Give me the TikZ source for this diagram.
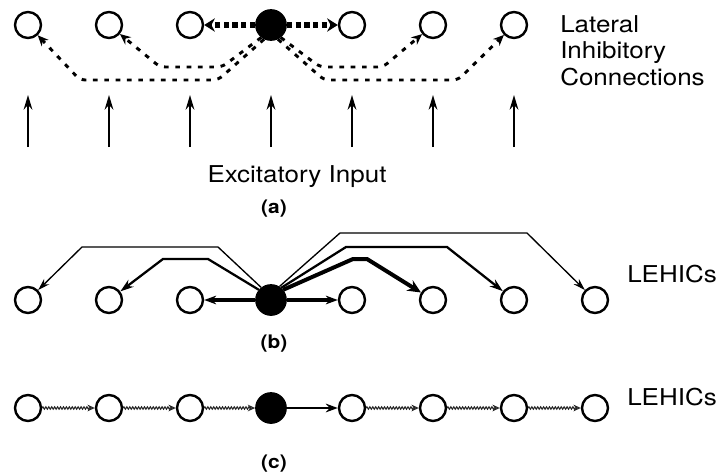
\documentclass[tikz,border=0pt]{standalone}
\usepackage{fontspec}
\setmainfont[FakeStretch=1.12]{TeX Gyre Heros}
\usepackage{tikz}
\usetikzlibrary{shapes.geometric, arrows.meta, positioning, decorations.pathmorphing}
\tikzstyle{cell} = [circle, draw=black, line width=1.8pt, minimum size=19.5pt, inner sep=0pt]
\tikzstyle{active} = [cell, fill=black, minimum size=22pt]
\tikzstyle{caption} = [inner sep=0pt, font=\fontsize{17.4}{20}\selectfont]
\tikzstyle{tag} = [inner sep=0pt, font=\bfseries\fontsize{14}{16}\selectfont]
\tikzstyle{input} = [line width=1.6pt, -{Stealth[length=11pt, width=6.5pt]}]
\tikzstyle{inhib} = [line width=2.2pt, dash pattern=on 3.5pt off 5pt, rounded corners=4pt, -{Stealth[length=8pt, width=7pt]}]
\tikzstyle{heavy} = [line width=4.5pt, dash pattern=on 4pt off 2.5pt, -{Stealth[length=8pt, width=10pt]}]
\tikzstyle{thin} = [line width=1pt, -{Stealth[length=9pt, width=5.5pt]}]
\tikzstyle{medium} = [line width=1.7pt, -{Stealth[length=10pt, width=6.5pt]}]
\tikzstyle{thick} = [line width=3pt, -{Stealth[length=10pt, width=9pt]}]
\tikzstyle{chain} = [line width=0.8pt, black!85, decorate, decoration={zigzag, amplitude=0.9pt, segment length=2.2pt, post length=4pt}, -{Stealth[open, length=5.5pt, width=5pt]}]
\tikzstyle{fire} = [line width=1.6pt, -{Stealth[length=9pt, width=6.5pt]}]

\begin{document}
\begin{tikzpicture}[x=0.75pt, y=-0.75pt, node distance=60.75pt]
	\useasboundingbox (0,0) rectangle (718,475);

	% (a) lateral inhibition
	\node (a1) [cell] at (28,25) {};
	\node (a2) [cell, right of=a1] {};
	\node (a3) [cell, right of=a2] {};
	\node (a4) [active, right of=a3] {};
	\node (a5) [cell, right of=a4] {};
	\node (a6) [cell, right of=a5] {};
	\node (a7) [cell, right of=a6] {};
	\node (lic) [caption, anchor=north west, align=left] at (560,15) {Lateral\\Inhibitory\\Connections};

	\draw [heavy](a4) -- (a3);
	\draw [heavy](a4) -- (a5);
	\draw [inhib](a4.232) -- (222,67) -- (160,67) -- (a2);
	\draw [inhib](a4.244) -- (218,80) -- (80,80) -- (a1);
	\draw [inhib](a4.308) -- (320,67) -- (383,67) -- (a6);
	\draw [inhib](a4.296) -- (324,80) -- (458,80) -- (a7);

	\foreach \i in {1,...,7} {
		\path (a\i) ++(0,122) coordinate (ib\i);
		\path (a\i) ++(0,70) coordinate (it\i);
		\draw [input](ib\i) -- (it\i);
	}
	\node (exc) [caption, anchor=base] at (297,182) {Excitatory Input};
	\node (taga) [tag, anchor=base] at (274,213.5) {(a)};

	% (b) LEHICs
	\node (b1) [cell] at (28,300) {};
	\node (b2) [cell, right of=b1] {};
	\node (b3) [cell, right of=b2] {};
	\node (b4) [active, right of=b3] {};
	\node (b5) [cell, right of=b4] {};
	\node (b6) [cell, right of=b5] {};
	\node (b7) [cell, right of=b6] {};
	\node (b8) [cell, right of=b7] {};
	\node (lb) [caption, anchor=base west] at (627,282) {LEHICs};

	\draw [fire, line width=3pt](b4) -- (b3);
	\draw [fire, line width=3pt](b4) -- (b5);
	\draw [thin](b4.128) -- (218,247) -- (82,247) -- (b1);
	\draw [medium](b4.140) -- (208,259) -- (163,259) -- (b2);
	\draw [thin](b4.58) -- (340,233) -- (527,233) -- (b8);
	\draw [medium](b4.50) -- (346,247) -- (447,247) -- (b7);
	\draw [thick](b4.40) -- (353,259) -- (367,259) -- (b6);
	\node (tagb) [tag, anchor=base] at (274,348.5) {(b)};

	% (c) chain of LEHICs
	\node (c1) [cell] at (28,408) {};
	\node (c2) [cell, right of=c1] {};
	\node (c3) [cell, right of=c2] {};
	\node (c4) [active, right of=c3] {};
	\node (c5) [cell, right of=c4] {};
	\node (c6) [cell, right of=c5] {};
	\node (c7) [cell, right of=c6] {};
	\node (c8) [cell, right of=c7] {};
	\node (lc) [caption, anchor=base west] at (627,405) {LEHICs};

	\draw [chain](c1) -- (c2);
	\draw [chain](c2) -- (c3);
	\draw [chain](c3) -- (c4);
	\draw [fire](c4) -- (c5);
	\draw [chain](c5) -- (c6);
	\draw [chain](c6) -- (c7);
	\draw [chain](c7) -- (c8);
	\node (tagc) [tag, anchor=base] at (274,468.5) {(c)};
\end{tikzpicture}
\end{document}
